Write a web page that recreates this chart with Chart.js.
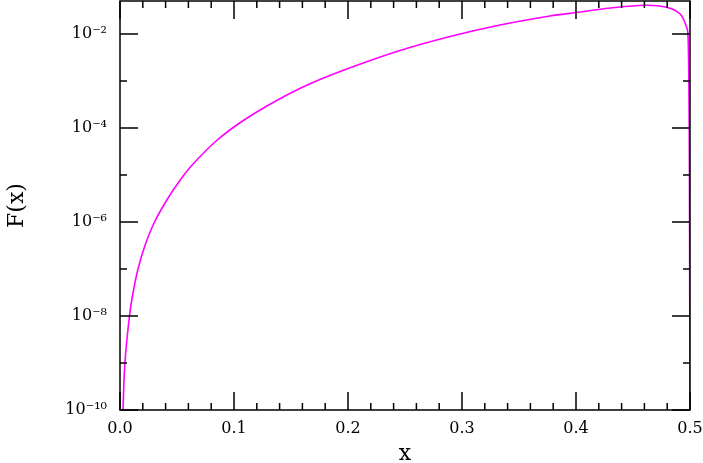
<!DOCTYPE html>
<html>
<head>
<meta charset="utf-8">
<script src="https://cdn.jsdelivr.net/npm/chart.js@4/dist/chart.umd.min.js"></script>
<style>
  html, body { margin: 0; padding: 0; background: #fff; }
  #wrap { width: 703px; height: 463px; }
</style>
</head>
<body>
<div id="wrap"><canvas id="c" width="703" height="463"></canvas></div>
<script>
// Values (x, log10 F)
const xValues = [0.0026, 0.0043, 0.0083, 0.0115, 0.0158, 0.0219, 0.0303, 0.0419, 0.053, 0.0643,
                 0.0848, 0.1082, 0.1375, 0.1667, 0.2018, 0.2456, 0.2895, 0.3333, 0.3772, 0.40,
                 0.43, 0.4605, 0.4795, 0.4912, 0.4971, 0.4982, 0.4990, 0.4995, 0.4998, 0.49995];
const logF   = [-10, -9, -8, -7.5, -7, -6.5, -6, -5.5, -5.10, -4.762,
                -4.266, -3.84, -3.415, -3.06, -2.72, -2.351, -2.053, -1.809, -1.617, -1.543,
                -1.447, -1.387, -1.43, -1.57, -1.855, -1.996, -3.0, -5.0, -8.0, -10];
const fValues = logF.map(v => Math.pow(10, v));
const xTickLabels = ['0.0', '0.1', '0.2', '0.3', '0.4', '0.5'];
const yDecades = [-10, -9, -8, -7, -6, -5, -4, -3, -2];
const yLabelExps = [-10, -8, -6, -4, -2];

const sup = {'-':'\u207B','0':'\u2070','1':'\u00B9','2':'\u00B2','3':'\u00B3','4':'\u2074','5':'\u2075','6':'\u2076','7':'\u2077','8':'\u2078','9':'\u2079'};
function supStr(n) { return String(n).split('').map(c => sup[c]).join(''); }

const points = xValues.map((x, i) => ({x: x, y: fValues[i]}));
const FONT = "'DejaVu Serif', serif";

const frame = {
  id: 'frame',
  afterDraw(chart) {
    const ctx = chart.ctx, a = chart.chartArea;
    const xs = chart.scales.x, ys = chart.scales.y;
    ctx.save();
    ctx.strokeStyle = '#000';
    ctx.lineWidth = 1.5;
    ctx.strokeRect(a.left, a.top, a.right - a.left, a.bottom - a.top);
    ctx.beginPath();
    for (let k = 0; k <= 25; k++) {
      const v = k * 0.02;
      const px = xs.getPixelForValue(v);
      const len = (k % 5 === 0) ? 18 : 7;
      ctx.moveTo(px, a.bottom); ctx.lineTo(px, a.bottom - len);
      ctx.moveTo(px, a.top); ctx.lineTo(px, a.top + len);
    }
    yDecades.forEach(e => {
      const py = ys.getPixelForValue(Math.pow(10, e));
      const len = (e % 2 === 0) ? 18 : 7;
      ctx.moveTo(a.left, py); ctx.lineTo(a.left + len, py);
      ctx.moveTo(a.right, py); ctx.lineTo(a.right - len, py);
    });
    ctx.stroke();
    ctx.restore();
  }
};

new Chart(document.getElementById('c'), {
  type: 'line',
  data: {
    datasets: [{
      data: points,
      borderColor: '#ff00ff',
      borderWidth: 1.6,
      pointRadius: 0,
      fill: false,
      tension: 0.35
    }]
  },
  options: {
    responsive: false,
    animation: false,
    devicePixelRatio: 1,
    layout: { padding: { left: 0, right: 13, top: 1, bottom: 0 } },
    plugins: { legend: { display: false }, tooltip: { enabled: false } },
    scales: {
      x: {
        type: 'linear', min: 0, max: 0.5,
        grid: { display: false, drawTicks: false },
        border: { display: false },
        afterBuildTicks: s => { s.ticks = xTickLabels.map(t => ({ value: parseFloat(t) })); },
        ticks: {
          color: '#000', font: { family: FONT, size: 16 }, padding: 9, maxRotation: 0,
          callback: (v) => xTickLabels.find(t => Math.abs(parseFloat(t) - v) < 1e-9) || ''
        },
        title: { display: true, text: 'x', color: '#000', font: { family: FONT, size: 22, lineHeight: 0.75 }, padding: { top: 0, bottom: 0 } },
        afterFit: s => { s.height = 53; s.paddingLeft = 0; s.paddingRight = 0; }
      },
      y: {
        type: 'logarithmic', min: 1e-10, max: 0.0504,
        grid: { display: false, drawTicks: false },
        border: { display: false },
        afterBuildTicks: s => { s.ticks = yDecades.map(e => ({ value: Math.pow(10, e) })); },
        ticks: {
          color: '#000', font: { family: FONT, size: 16 }, padding: 13, autoSkip: false,
          callback: (v) => {
            const e = Math.round(Math.log10(v));
            return yLabelExps.includes(e) ? '10' + supStr(e) : '';
          }
        },
        title: { display: true, text: 'F(x)', color: '#000', font: { family: FONT, size: 22 }, padding: { top: 4, bottom: 0 } },
        afterFit: s => { s.width = 120; s.paddingTop = 0; s.paddingBottom = 0; }
      }
    }
  },
  plugins: [frame]
});
</script>
</body>
</html>
